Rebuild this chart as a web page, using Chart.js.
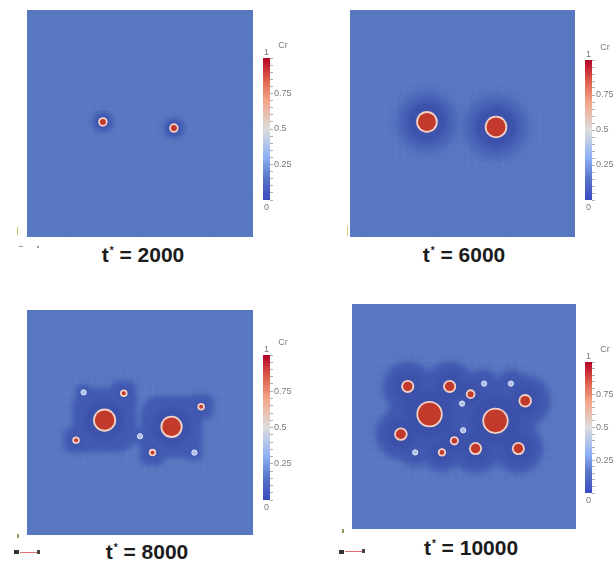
<!DOCTYPE html>
<html>
<head>
<meta charset="utf-8">
<title>Cr precipitation</title>
<script src="https://cdn.jsdelivr.net/npm/chart.js@4.4.1/dist/chart.umd.min.js"></script>
<style>
	body {
		margin: 0;
		width: 614px;
		height: 563px;
		position: relative;
		overflow: hidden;
		background: #fff;
		font-family: "Liberation Sans", Arial, sans-serif;
	}
	canvas { position: absolute; }
	.cap {
		position: absolute;
		transform: translateX(-50%);
		font-size: 21px;
		font-weight: bold;
		color: #1c1c1c;
		line-height: 1;
		white-space: nowrap;
	}
	.cap sup { font-size: 10px; vertical-align: 8px; margin-left: 1px; }
	.ax { position: absolute; }
</style>
</head>
<body>
<canvas id="panel1" width="226" height="227" style="left:27px;top:10px"></canvas>
<canvas id="panel2" width="225" height="227" style="left:350px;top:10px"></canvas>
<canvas id="panel3" width="226" height="225" style="left:27px;top:310px"></canvas>
<canvas id="panel4" width="224" height="225" style="left:352px;top:304px"></canvas>

<canvas id="bar1" width="44" height="178" style="left:263px;top:38px"></canvas>
<canvas id="bar2" width="44" height="176" style="left:585px;top:40px"></canvas>
<canvas id="bar3" width="44" height="181" style="left:263px;top:335px"></canvas>
<canvas id="bar4" width="44" height="167" style="left:585px;top:342px"></canvas>

<div class="cap" id="cap1" style="left:143px;top:244px"></div>
<div class="cap" id="cap2" style="left:464px;top:244px"></div>
<div class="cap" id="cap3" style="left:147px;top:541px"></div>
<div class="cap" id="cap4" style="left:471px;top:537px"></div>

<!-- little orientation glyphs in the corners -->
<div class="ax" style="left:17px;top:227px;width:1px;height:8px;background:#c9c46a"></div>
<div class="ax" style="left:19px;top:246px;width:4px;height:1px;background:#9a9a9a"></div>
<div class="ax" style="left:37px;top:246px;width:2px;height:2px;background:#9a9a9a"></div>
<div class="ax" style="left:347px;top:226px;width:1px;height:10px;background:#d4cf7a"></div>
<div class="ax" style="left:17px;top:534px;width:2px;height:4px;background:#8aa060"></div>
<div class="ax" style="left:14px;top:550px;width:5px;height:4px;background:#333"></div>
<div class="ax" style="left:20px;top:552px;width:17px;height:1px;background:#e07070"></div>
<div class="ax" style="left:37px;top:550px;width:3px;height:4px;background:#444"></div>
<div class="ax" style="left:342px;top:529px;width:2px;height:4px;background:#8a9a60"></div>
<div class="ax" style="left:339px;top:550px;width:5px;height:4px;background:#333"></div>
<div class="ax" style="left:345px;top:551px;width:17px;height:1px;background:#e07070"></div>
<div class="ax" style="left:362px;top:549px;width:3px;height:4px;background:#444"></div>

<script>
// reduced time of each snapshot
const steps = [2000, 6000, 8000, 10000];

// precipitate centres and core radii, in % of the simulation box
const p1X = [33.6, 65.0];
const p1Y = [50.7, 48.0];
const p1R = [1.3, 1.3];

const p2X = [34.2, 64.9];
const p2Y = [50.7, 48.5];
const p2R = [4.0, 4.2];

const p3X = [33.6, 64.6, 42.5, 20.4, 78.3, 55.8];
const p3Y = [51.1, 48.0, 63.6, 41.8, 57.3, 36.0];
const p3R = [4.5, 4.3, 0.9, 0.9, 0.9, 0.9];

const p4X = [33.9, 64.7, 23.7, 43.3, 53.1, 78.6, 20.5, 45.5, 55.4, 75.4, 39.7];
const p4Y = [51.1, 48.0, 64.0, 64.0, 60.4, 57.3, 41.8, 38.7, 35.1, 35.1, 33.3];
const p4R = [5.3, 5.3, 2.2, 2.2, 1.4, 2.3, 2.3, 1.3, 2.2, 2.2, 1.1];

// sub-critical Cr clusters (no red core yet)
const n1X = [];
const n1Y = [];
const n3X = [23.9, 75.2, 50.0];
const n3Y = [64.0, 36.0, 43.6];
const n4X = [59.4, 71.9, 49.1, 49.6, 27.2];
const n4Y = [65.3, 65.3, 56.0, 43.6, 33.3];

// colour bar
const cbTicks = [0, 0.25, 0.5, 0.75, 1];
const cbLabels = ["0", "0.25", "0.5", "0.75", "1"];

// coolwarm map used for the Cr fraction
const coolwarm = [
	[0.0, "#3b4cc0"],
	[0.15, "#5673c8"],
	[0.3, "#8db0f5"],
	[0.5, "#dcdddd"],
	[0.7, "#f4a487"],
	[0.85, "#dd5e4b"],
	[1.0, "#b40426"],
];

const FIELD = "#5777c1";
const CORE = "#c23a2b";
const RIM = "#f3d2c6";

function toPoints(xs, ys, rs) {
	return xs.map((x, i) => ({ x: x, y: ys[i], r: rs ? rs[i] : 0 }));
}

// pixels per domain unit
function unit(ctx) {
	const s = ctx.chart.scales.x;
	return s ? s.width / 100 : 2.25;
}

const fieldPlugin = {
	id: "field",
	beforeDraw(chart) {
		const c = chart.ctx;
		c.save();
		c.fillStyle = FIELD;
		c.fillRect(0, 0, chart.width, chart.height);
		c.restore();
	},
	beforeDatasetDraw(chart, args) {
		const ds = chart.data.datasets[args.index];
		if (ds.blur) {
			chart.ctx.save();
			chart.ctx.filter = "blur(" + ds.blur + "px)";
		}
	},
	afterDatasetDraw(chart, args) {
		if (chart.data.datasets[args.index].blur) chart.ctx.restore();
	},
};

function makePanel(id, pts, nuclei, look) {
	const halo = pts.concat(nuclei);
	// higher order is painted first, so the halo sits at the back
	const datasets = [
		{
			label: "halo",
			order: 5,
			data: halo,
			blur: look.blur,
			pointStyle: look.shape,
			pointRadius: (c) => look.outer[0] * c.raw.r * unit(c) + look.outer[1],
			backgroundColor: look.outerColor,
			borderWidth: 0,
		},
		{
			label: "depleted",
			order: 4,
			data: pts,
			blur: look.blur * 0.7,
			pointRadius: (c) => look.inner[0] * c.raw.r * unit(c) + look.inner[1],
			backgroundColor: look.innerColor,
			borderWidth: 0,
		},
		{
			label: "nuclei",
			order: 3,
			data: nuclei,
			blur: 0.6,
			pointRadius: 2.6,
			backgroundColor: "#a9bde8",
			borderColor: "#e6ebf6",
			borderWidth: 1,
		},
		{
			label: "rim",
			order: 2,
			data: pts,
			blur: 0.5,
			pointRadius: (c) => c.raw.r * unit(c) + 1.8,
			backgroundColor: RIM,
			borderWidth: 0,
		},
		{
			label: "core",
			order: 1,
			data: pts,
			blur: 0.4,
			pointRadius: (c) => c.raw.r * unit(c),
			backgroundColor: CORE,
			borderWidth: 0,
		},
	];

	const axis = {
		type: "linear",
		min: 0,
		max: 100,
		ticks: { display: false, stepSize: 4 },
		grid: { color: "rgba(255,255,255,0.035)", drawTicks: false },
		border: { display: false },
	};

	return new Chart(document.getElementById(id), {
		type: "scatter",
		data: { datasets: datasets },
		options: {
			responsive: false,
			animation: false,
			events: [],
			layout: { padding: 0 },
			plugins: { legend: { display: false }, tooltip: { enabled: false } },
			scales: { x: axis, y: { ...axis } },
		},
		plugins: [fieldPlugin],
	});
}

const barPlugin = {
	id: "barLabels",
	afterDraw(chart) {
		const c = chart.ctx;
		const y = chart.scales.y;
		const a = chart.chartArea;
		c.save();
		c.fillStyle = "#7a7a7a";
		c.font = "9px 'Liberation Sans', Arial, sans-serif";
		c.textAlign = "left";
		c.textBaseline = "bottom";
		c.fillText(cbLabels[4], a.left + 1, y.getPixelForValue(cbTicks[4]) - 1);
		c.textBaseline = "top";
		c.fillText(cbLabels[0], a.left + 1, y.getPixelForValue(cbTicks[0]) + 3);
		c.textAlign = "center";
		c.textBaseline = "bottom";
		c.fillText("Cr", a.right + 13, y.getPixelForValue(1) - 8);
		c.restore();
	},
};

function makeBar(id, padTop, padBottom) {
	return new Chart(document.getElementById(id), {
		type: "bar",
		data: {
			labels: ["Cr"],
			datasets: [
				{
					data: [[cbTicks[0], cbTicks[4]]],
					barPercentage: 1,
					categoryPercentage: 1,
					borderWidth: 0,
					backgroundColor: (ctx) => {
						const ch = ctx.chart;
						if (!ch.chartArea) return coolwarm[0][1];
						const y = ch.scales.y;
						const g = ch.ctx.createLinearGradient(0, y.getPixelForValue(0), 0, y.getPixelForValue(1));
						coolwarm.forEach((s) => g.addColorStop(s[0], s[1]));
						return g;
					},
				},
			],
		},
		options: {
			responsive: false,
			animation: false,
			events: [],
			layout: { padding: { top: padTop, bottom: padBottom, left: 0, right: 12 } },
			plugins: { legend: { display: false }, tooltip: { enabled: false } },
			scales: {
				x: { display: false },
				y: {
					position: "right",
					min: 0,
					max: 1,
					afterFit: (s) => { s.width = 25; },
					border: { display: false },
					grid: { drawOnChartArea: false, tickLength: 3, color: "#9a9a9a", lineWidth: 0.8 },
					ticks: {
						stepSize: 0.05,
						autoSkip: false,
						padding: 1,
						color: "#7a7a7a",
						font: { size: 9, family: "'Liberation Sans', Arial, sans-serif" },
						callback: (v) => {
							const i = cbTicks.findIndex((t) => Math.abs(t - v) < 1e-6);
							return i > 0 && i < cbTicks.length - 1 ? cbLabels[i] : "";
						},
					},
				},
			},
		},
		plugins: [barPlugin],
	});
}

function initializeCharts() {
	makePanel("panel1", toPoints(p1X, p1Y, p1R), toPoints(n1X, n1Y), {
		shape: "circle", blur: 2,
		outer: [3.8, 0], outerColor: "#4862b6",
		inner: [2.4, 0], innerColor: "#3d53ad",
	});
	makePanel("panel2", toPoints(p2X, p2Y, p2R), [], {
		shape: "circle", blur: 4,
		outer: [3.4, 0], outerColor: "#4862b6",
		inner: [2.2, 0], innerColor: "#3d52ab",
	});
	makePanel("panel3", toPoints(p3X, p3Y, p3R), toPoints(n3X, n3Y), {
		shape: "rectRounded", blur: 2.5,
		outer: [2.9, 9], outerColor: "#425bb2",
		inner: [1.9, 2], innerColor: "#3d53ab",
	});
	makePanel("panel4", toPoints(p4X, p4Y, p4R), toPoints(n4X, n4Y), {
		shape: "circle", blur: 3,
		outer: [2.3, 14], outerColor: "#4158b0",
		inner: [1.6, 6], innerColor: "#3c51aa",
	});

	// bars: 142, 140, 145, 131 px tall
	makeBar("bar1", 20, 16);
	makeBar("bar2", 20, 16);
	makeBar("bar3", 20, 16);
	makeBar("bar4", 20, 16);

	steps.forEach((t, i) => {
		document.getElementById("cap" + (i + 1)).innerHTML = "t<sup>*</sup> = " + t;
	});
}

initializeCharts();
</script>
</body>
</html>
